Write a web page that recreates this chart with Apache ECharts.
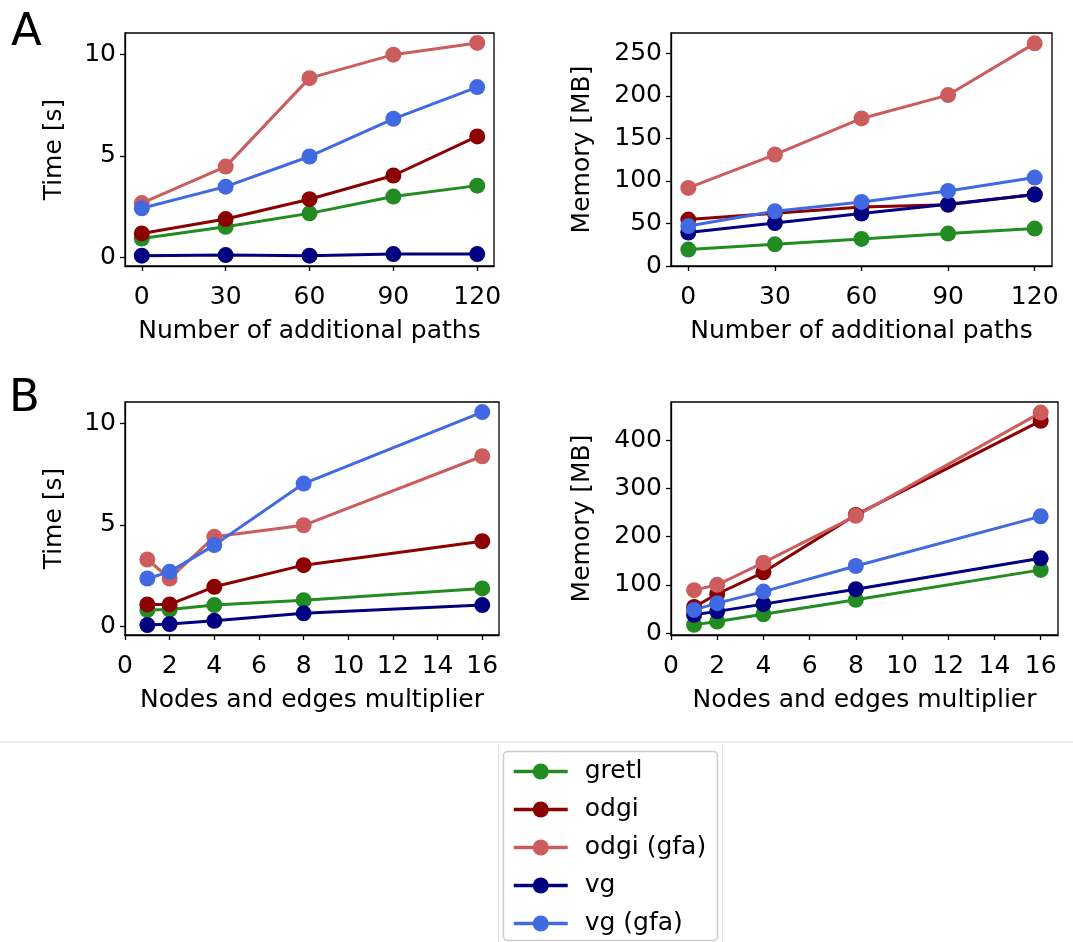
<!DOCTYPE html>
<html>
<head>
<meta charset="utf-8">
<script src="https://cdn.jsdelivr.net/npm/echarts@6/dist/echarts.min.js"></script>
<style>
  html, body { margin: 0; padding: 0; background: #fff; }
  #chart { width: 1073px; height: 942px; }
</style>
</head>
<body>
<div id="chart"></div>
<script>
// Benchmark results: runtime and peak memory of graph tools
const methods = ['gretl', 'odgi', 'odgi (gfa)', 'vg', 'vg (gfa)'];
const colors = ['#228B22', '#8B0000', '#CD5C5C', '#000080', '#4169E1'];

// A: number of additional paths
const pathCounts = [0, 30, 60, 90, 120];
const pathTicks = [0, 30, 60, 90, 120];
const pathTime = [
  [0.92, 1.50, 2.16, 2.99, 3.53],
  [1.17, 1.88, 2.86, 4.03, 5.96],
  [2.67, 4.47, 8.84, 10.00, 10.58],
  [0.07, 0.10, 0.07, 0.15, 0.15],
  [2.41, 3.48, 4.97, 6.83, 8.40]
];
const pathMemory = [
  [19.3, 25.5, 31.8, 38.1, 44.0],
  [54.6, 62.0, 69.5, 72.0, 84.0],
  [91.8, 131.0, 173.5, 201.0, 261.8],
  [39.3, 50.6, 61.7, 72.6, 84.0],
  [47.0, 64.4, 75.3, 88.3, 104.0]
];

// B: nodes and edges multiplier
const multipliers = [1, 2, 4, 8, 16];
const multiplierTicks = [0, 2, 4, 6, 8, 10, 12, 14, 16];
const scaleTime = [
  [0.79, 0.82, 1.04, 1.28, 1.86],
  [1.07, 1.07, 1.94, 3.01, 4.19],
  [3.29, 2.35, 4.41, 4.98, 8.39],
  [0.05, 0.10, 0.26, 0.63, 1.04],
  [2.35, 2.68, 4.00, 7.04, 10.57]
];
const scaleMemory = [
  [17, 24, 39, 69, 131],
  [54, 81, 126, 245, 440],
  [89, 100, 146, 243, 457],
  [38, 45, 60, 91, 155],
  [48, 62, 86, 139, 242]
];

const timeTicks = [0, 5, 10];
const pathMemoryTicks = [0, 50, 100, 150, 200, 250];
const scaleMemoryTicks = [0, 100, 200, 300, 400];

const FONT = 'DejaVu Sans';
const FS = 25;

function xAxisFor(gridIndex, min, max, ticks, name) {
  return {
    type: 'value', gridIndex, min, max, name,
    nameLocation: 'middle', nameGap: 53,
    nameTextStyle: { fontFamily: FONT, fontSize: FS, color: '#000' },
    axisLine: { show: true, onZero: false, lineStyle: { color: '#000', width: 1.3 } },
    axisTick: { show: true, length: 5, customValues: ticks, lineStyle: { color: '#000', width: 1.3 } },
    axisLabel: { customValues: ticks, margin: 19, fontFamily: FONT, fontSize: FS, color: '#000' },
    splitLine: { show: false }
  };
}

function yAxisFor(gridIndex, min, max, ticks, name, gap) {
  return {
    type: 'value', gridIndex, min, max, name,
    nameLocation: 'middle', nameGap: gap,
    nameTextStyle: { fontFamily: FONT, fontSize: FS, color: '#000' },
    axisLine: { show: true, onZero: false, lineStyle: { color: '#000', width: 1.3 } },
    axisTick: { show: true, length: 5, customValues: ticks, lineStyle: { color: '#000', width: 1.3 } },
    axisLabel: { customValues: ticks, margin: 9, fontFamily: FONT, fontSize: FS, color: '#000' },
    splitLine: { show: false }
  };
}

const grids = [
  { left: 125, top: 33, width: 369, height: 233 },
  { left: 671, top: 33, width: 381, height: 233 },
  { left: 125, top: 402, width: 374, height: 233 },
  { left: 671, top: 402, width: 387, height: 233 }
].map(g => Object.assign({ show: true, borderColor: '#000', borderWidth: 1.3, backgroundColor: 'transparent' }, g));

const xAxes = [
  xAxisFor(0, -6, 126, pathTicks, 'Number of additional paths'),
  xAxisFor(1, -6, 126, pathTicks, 'Number of additional paths'),
  xAxisFor(2, 0, 16.75, multiplierTicks, 'Nodes and edges multiplier'),
  xAxisFor(3, 0, 16.75, multiplierTicks, 'Nodes and edges multiplier')
];
const yAxes = [
  yAxisFor(0, -0.44, 11.07, timeTicks, 'Time [s]', 58),
  yAxisFor(1, 0, 274, pathMemoryTicks, 'Memory [MB]', 76),
  yAxisFor(2, -0.44, 11.07, timeTicks, 'Time [s]', 58),
  yAxisFor(3, -4, 479, scaleMemoryTicks, 'Memory [MB]', 76)
];

const panels = [
  { xs: pathCounts, values: pathTime },
  { xs: pathCounts, values: pathMemory },
  { xs: multipliers, values: scaleTime },
  { xs: multipliers, values: scaleMemory }
];

const series = [];
panels.forEach((p, gi) => {
  methods.forEach((m, mi) => {
    series.push({
      type: 'line', name: m,
      xAxisIndex: gi, yAxisIndex: gi,
      data: p.xs.map((x, k) => [x, p.values[mi][k]]),
      symbol: 'circle', symbolSize: 16, showSymbol: true,
      lineStyle: { color: colors[mi], width: 3 },
      itemStyle: { color: colors[mi] },
      emphasis: { disabled: true },
      animation: false
    });
  });
});

const chart = echarts.init(document.getElementById('chart'), null, { renderer: 'canvas' });
chart.setOption({
  backgroundColor: '#fff',
  animation: false,
  grid: grids,
  xAxis: xAxes,
  yAxis: yAxes,
  series,
  legend: {
    data: methods,
    orient: 'vertical',
    left: 503, top: 751,
    width: 200, height: 240,
    padding: [8, 18, 8, 9],
    itemWidth: 54, itemHeight: 20,
    itemGap: 13,
    borderWidth: 0,
    lineStyle: { width: 3.5 },
    textStyle: { fontFamily: FONT, fontSize: FS, color: '#000', lineHeight: 24, padding: [0, 0, 0, 12] },
    selectedMode: false,
    z: 5
  },
  graphic: [
    { type: 'line', shape: { x1: 0, y1: 742, x2: 1073, y2: 742 }, style: { stroke: '#dddddd', lineWidth: 1 }, z: 0 },
    { type: 'line', shape: { x1: 498.5, y1: 745, x2: 498.5, y2: 942 }, style: { stroke: '#e4e4e4', lineWidth: 1 }, z: 0 },
    { type: 'line', shape: { x1: 722.5, y1: 745, x2: 722.5, y2: 942 }, style: { stroke: '#e4e4e4', lineWidth: 1 }, z: 0 },
    // legend frame
    { type: 'rect', shape: { x: 503.5, y: 751.5, width: 214, height: 189, r: 4 }, style: { fill: '#fff', stroke: '#cccccc', lineWidth: 1.5 }, z: 1 },
    { type: 'text', left: 11, top: 11, style: { text: 'A', fontFamily: FONT, fontSize: 45, fill: '#000' } },
    { type: 'text', left: 9, top: 377, style: { text: 'B', fontFamily: FONT, fontSize: 45, fill: '#000' } }
  ]
});
</script>
</body>
</html>
